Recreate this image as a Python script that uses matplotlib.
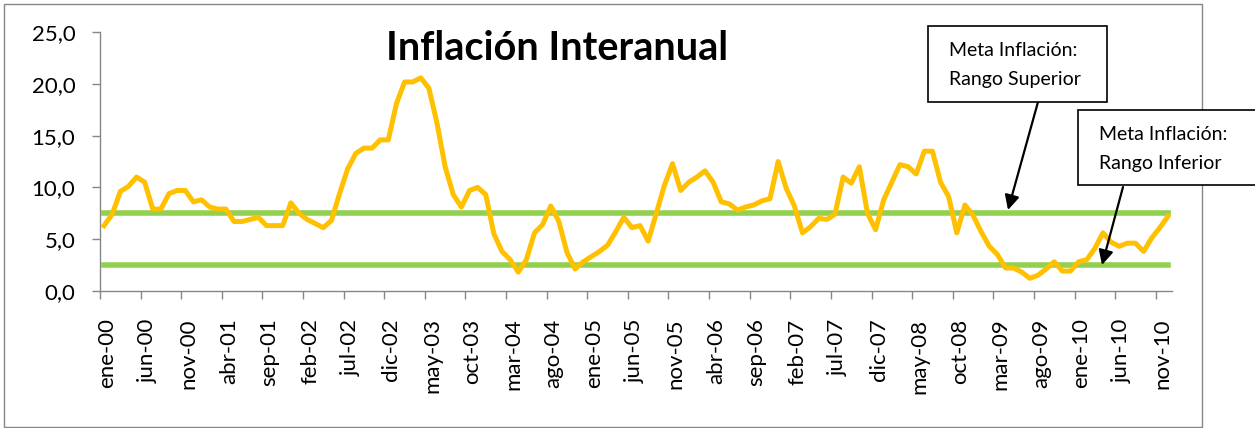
import matplotlib
matplotlib.use("Agg")
import matplotlib.pyplot as plt
import matplotlib.transforms as mtransforms
from matplotlib.patches import Rectangle
from matplotlib.ticker import FuncFormatter

plt.rcParams["font.family"] = ["Lato", "DejaVu Sans"]

# month labels ene-00 ... dic-10
meses = ["ene", "feb", "mar", "abr", "may", "jun", "jul", "ago", "sep", "oct", "nov", "dic"]
anios = list(range(0, 11))
fechas = [f"{m}-{a:02d}" for a in anios for m in meses]

# inflacion interanual (%)
inflacion = [
    6.3, 7.4, 9.6, 10.1, 11.0, 10.5, 7.9, 7.9, 9.4, 9.7, 9.7, 8.6,
    8.8, 8.1, 7.9, 7.9, 6.7, 6.7, 6.9, 7.1, 6.3, 6.3, 6.3, 8.5,
    7.5, 6.9, 6.5, 6.1, 6.8, 9.4, 11.8, 13.3, 13.8, 13.8, 14.6, 14.6,
    18.1, 20.2, 20.2, 20.6, 19.6, 16.2, 12.0, 9.3, 8.1, 9.7, 10.0, 9.3,
    5.5, 3.8, 3.0, 1.8, 3.0, 5.6, 6.4, 8.2, 6.7, 3.7, 2.1, 2.8,
    3.3, 3.8, 4.4, 5.7, 7.1, 6.1, 6.3, 4.8, 7.5, 10.2, 12.3, 9.7,
    10.5, 11.0, 11.6, 10.5, 8.6, 8.4, 7.8, 8.1, 8.3, 8.7, 8.9, 12.5,
    9.9, 8.2, 5.6, 6.2, 7.0, 6.9, 7.4, 11.0, 10.4, 12.0, 7.5, 5.9,
    8.8, 10.5, 12.2, 12.0, 11.3, 13.5, 13.5, 10.5, 9.1, 5.6, 8.3, 7.3,
    5.7, 4.3, 3.5, 2.2, 2.2, 1.8, 1.2, 1.5, 2.1, 2.8, 1.9, 1.9,
    2.8, 3.0, 4.1, 5.6, 4.7, 4.3, 4.6, 4.6, 3.8, 5.1, 6.1, 7.2,
]
meta_superior = 7.5
meta_inferior = 2.5

W, H = 1255, 428
GRIS = "#868686"

fig = plt.figure(figsize=(W / 100, H / 100), dpi=100)
ax = fig.add_axes([100 / W, 1 - 290.7 / H, 1072 / W, 258.3 / H])

x = list(range(len(inflacion)))
ax.plot(x, [meta_superior] * len(x), color="#92D050", lw=4, zorder=2)
ax.plot(x, [meta_inferior] * len(x), color="#92D050", lw=4, zorder=2)
ax.plot(x, inflacion, color="#FFC000", lw=3.6, solid_joinstyle="round", zorder=3)

ax.set_xlim(-0.5, len(x) - 0.5)
ax.set_ylim(0, 25)
ax.set_yticks(range(0, 30, 5))
ax.yaxis.set_major_formatter(FuncFormatter(lambda v, p: f"{v:.1f}".replace(".", ",")))

ax.set_xticks(x[::5])
ax.set_xticklabels(fechas[::5], rotation=90)
ax.set_xticks([i - 0.5 for i in x[::5]], minor=True)

for s in ["top", "right"]:
    ax.spines[s].set_visible(False)
for s in ["left", "bottom"]:
    ax.spines[s].set_color(GRIS)
    ax.spines[s].set_linewidth(1)

ax.tick_params(axis="y", length=5.8, width=1, color=GRIS, pad=12, labelsize=16)
ax.tick_params(axis="x", which="major", length=0, pad=20, labelsize=16)
ax.tick_params(axis="x", which="minor", length=5.8, width=1, color=GRIS)

shift = mtransforms.ScaledTranslation(3 / 100, 0, fig.dpi_scale_trans)
for lab in ax.get_xticklabels():
    lab.set_transform(lab.get_transform() + shift)

fig.text(557 / W, 1 - 48 / H, "Inflación Interanual", fontsize=28.5,
         fontweight="bold", ha="center", va="center")

# outer chart border
fig.patches.append(Rectangle((4 / W, 1 - 427 / H), 1198 / W, 423 / H,
                             transform=fig.transFigure, fill=False,
                             ec=GRIS, lw=1))

# callout boxes
cajas = [
    ((928, 26, 179, 76), (949, 50, 80), "Rango Superior", (1038, 102), (1008, 210)),
    ((1078, 110, 200, 75), (1099, 134, 163), "Rango Inferior", (1123, 187), (1102, 265)),
]
for (bx, by, bw, bh), (tx, t1, t2), rango, a0, a1 in cajas:
    fig.patches.append(Rectangle((bx / W, 1 - (by + bh) / H), bw / W, bh / H,
                                 transform=fig.transFigure, fc="white",
                                 ec="black", lw=1.2, zorder=5))
    fig.text(tx / W, 1 - t1 / H, "Meta Inflación:", fontsize=14, va="center", zorder=6)
    fig.text(tx / W, 1 - t2 / H, rango, fontsize=14, va="center", zorder=6)
    ax.annotate("", xy=(a1[0], H - a1[1]), xycoords="figure pixels",
                xytext=(a0[0], H - a0[1]), textcoords="figure pixels",
                arrowprops=dict(arrowstyle="-|>", color="black", lw=1.6,
                                mutation_scale=22, shrinkA=0, shrinkB=0),
                annotation_clip=False, zorder=6)

fig.savefig("out.png", dpi=100)
